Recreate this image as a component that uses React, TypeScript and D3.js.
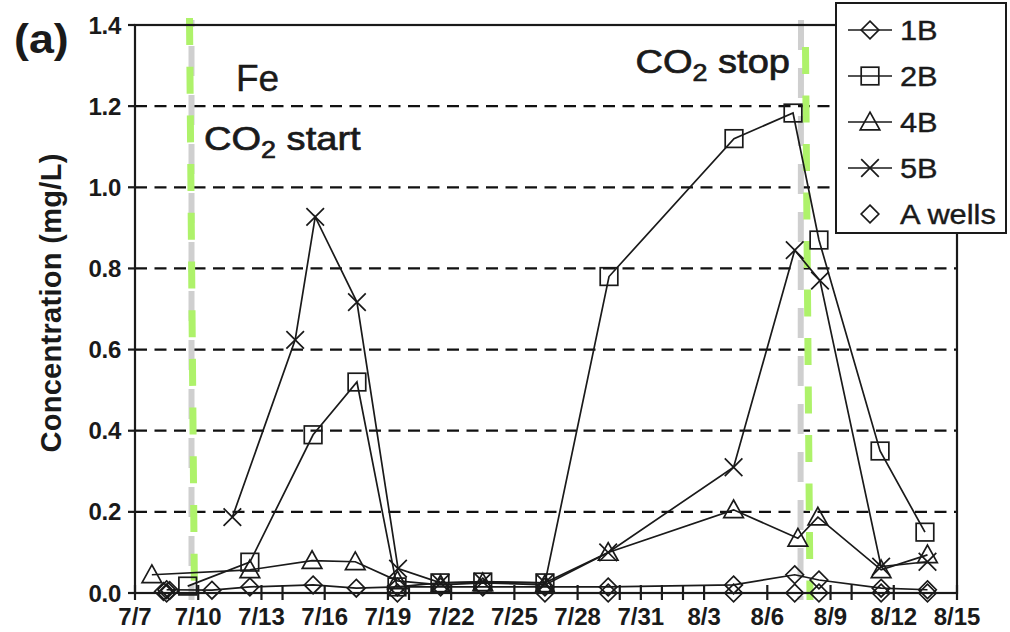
import React from "react";
import * as d3 from "d3";

// x values: days after 7/7 (fractional), y values: mg/L
const tickDays = [0, 3, 6, 9, 12, 15, 18, 21, 24, 27, 30, 33, 36, 39];
const tickLabels = ["7/7", "7/10", "7/13", "7/16", "7/19", "7/22", "7/25", "7/28", "7/31", "8/3", "8/6", "8/9", "8/12", "8/15"];
const minorTickDays = [7, 13, 23, 25, 26, 34];
const yTicks = [0, 0.2, 0.4, 0.6, 0.8, 1.0, 1.2, 1.4];

const days1B = [1.5, 3.65, 5.45, 8.45, 10.5, 12.45, 14.5, 16.5, 19.45, 22.45, 28.4, 31.3, 32.45, 35.4, 37.6];
const vals1B = [0.008, 0.007, 0.015, 0.02, 0.012, 0.015, 0.015, 0.015, 0.015, 0.015, 0.02, 0.045, 0.032, 0.012, 0.008];

const days2B = [2.5, 5.45, 8.45, 10.53, 12.43, 14.47, 16.5, 19.45, 22.49, 28.42, 31.22, 32.45, 35.35, 37.48];
const vals2B = [0.017, 0.076, 0.39, 0.52, 0.015, 0.025, 0.027, 0.025, 0.78, 1.12, 1.183, 0.87, 0.35, 0.15];

const days4B = [0.8, 5.45, 8.4, 10.45, 12.45, 14.5, 16.5, 19.45, 22.45, 28.4, 31.45, 32.4, 35.4, 37.6];
const vals4B = [0.045, 0.057, 0.08, 0.077, 0.03, 0.02, 0.025, 0.02, 0.1, 0.205, 0.135, 0.187, 0.057, 0.094];

const days5B = [4.62, 7.6, 8.55, 10.53, 12.48, 14.5, 16.5, 19.45, 22.45, 28.4, 31.3, 32.5, 35.4, 37.6];
const vals5B = [0.187, 0.624, 0.927, 0.717, 0.06, 0.025, 0.028, 0.025, 0.1, 0.31, 0.845, 0.77, 0.065, 0.077];

const daysA = [1.35, 1.5, 1.65, 12.45, 19.45, 22.45, 28.4, 31.3, 32.45, 35.4, 37.6];
const valsA = [0.004, 0.0, 0.006, 0.0, 0.0, 0.0, 0.0, 0.0, 0.0, 0.0, 0.0];

const legendNames = ["1B", "2B", "4B", "5B", "A wells"];

const FONT = "'Liberation Sans', Arial, Helvetica, sans-serif";
const INK = "#1a1a1a";

const L = 135, R = 957, T = 25, B = 593;
const x = d3.scaleLinear().domain([0, 39]).range([L, R]);
const y = d3.scaleLinear().domain([0, 1.4]).range([B, T]);

function Marker({ type, cx, cy }: { type: string; cx: number; cy: number }) {
  const s = 8.8;
  const common = { fill: "none", stroke: INK, strokeWidth: 1.7 };
  if (type === "diamond")
    return <path d={`M${cx},${cy - s} L${cx + s},${cy} L${cx},${cy + s} L${cx - s},${cy} Z`} {...common} />;
  if (type === "square")
    return <rect x={cx - s} y={cy - s} width={2 * s} height={2 * s} {...common} />;
  if (type === "triangle")
    return <path d={`M${cx},${cy - s - 1} L${cx + s + 1},${cy + s - 1} L${cx - s - 1},${cy + s - 1} Z`} {...common} />;
  if (type === "x")
    return <path d={`M${cx - s},${cy - s} L${cx + s},${cy + s} M${cx - s},${cy + s} L${cx + s},${cy - s}`} {...common} />;
  return null;
}

const series = [
  { name: "1B", days: days1B, vals: vals1B, marker: "diamond", line: true },
  { name: "2B", days: days2B, vals: vals2B, marker: "square", line: true },
  { name: "4B", days: days4B, vals: vals4B, marker: "triangle", line: true },
  { name: "5B", days: days5B, vals: vals5B, marker: "x", line: true },
  { name: "A wells", days: daysA, vals: valsA, marker: "diamond", line: false },
];

export default function App() {
  const lineGen = d3.line<[number, number]>().x((d) => x(d[0])).y((d) => y(d[1]));
  const thick = { stroke: INK, strokeWidth: 0.7 };
  return (
    <svg width={1010} height={632} style={{ position: "absolute", left: 0, top: 0, background: "#fff" }} fontFamily={FONT}>
      <rect width={1010} height={632} fill="#fff" />
      {/* gridlines */}
      {yTicks.filter((v) => v > 0 && v < 1.4).map((v) => (
        <line key={v} x1={L} x2={R} y1={y(v)} y2={y(v)} stroke="#111" strokeWidth={2.2} strokeDasharray="12,7.5" />
      ))}
      {/* CO2 lines: gray and green dashed */}
      <line x1={191.5} x2={191.5} y1={20} y2={600} stroke="#cfcfcf" strokeWidth={6} strokeDasharray="30,19" strokeDashoffset={-26} />
      <line x1={189.5} x2={194.5} y1={18} y2={600} stroke="#aef26a" strokeWidth={7} strokeDasharray="27,21.7" />
      <line x1={801} x2={800.5} y1={20} y2={600} stroke="#cfcfcf" strokeWidth={6} strokeDasharray="30,18" />
      <line x1={805.5} x2={810} y1={47} y2={600} stroke="#aef26a" strokeWidth={7} strokeDasharray="27,21.5" />
      {/* series lines */}
      {series.filter((s) => s.line).map((s) => (
        <path key={s.name} d={lineGen(s.days.map((d, i) => [d, s.vals[i]]) as [number, number][]) || ""} fill="none" stroke={INK} strokeWidth={1.7} />
      ))}
      {series.map((s) => s.days.map((d, i) => (
        <Marker key={s.name + i} type={s.marker} cx={x(d)} cy={y(s.vals[i])} />
      )))}
      {/* frame */}
      <rect x={L} y={T} width={R - L} height={B - T} fill="none" stroke={INK} strokeWidth={2.2} />
      {/* y ticks */}
      {yTicks.map((v) => (
        <g key={v}>
          <line x1={L - 7} x2={L} y1={y(v)} y2={y(v)} stroke={INK} strokeWidth={2.2} />
          <text x={121} y={y(v) + 8.5} textAnchor="end" fontSize={24} fontWeight="bold" fill={INK} letterSpacing={-0.3}>
            {v.toFixed(1)}
          </text>
        </g>
      ))}
      {/* x ticks */}
      {tickDays.map((d, i) => (
        <g key={d}>
          <line x1={x(d)} x2={x(d)} y1={B - 8} y2={B + 7} stroke={INK} strokeWidth={2.2} />
          <text x={x(d)} y={625} textAnchor="middle" fontSize={24} fontWeight="bold" fill={INK}>
            {tickLabels[i]}
          </text>
        </g>
      ))}
      {minorTickDays.map((d) => (
        <line key={"m" + d} x1={x(d)} x2={x(d)} y1={B - 8} y2={B + 7} stroke={INK} strokeWidth={2.2} />
      ))}
      {/* axis title */}
      <text transform="translate(61,303) rotate(-90)" textAnchor="middle" fontSize={29} fontWeight="bold" fill={INK} letterSpacing={0.3}>
        Concentration (mg/L)
      </text>
      <text transform="translate(14,53) scale(1.12,1)" fontSize={40} fontWeight="bold" fill={INK}>(a)</text>
      <text x={236} y={91} fontSize={37} fill={INK} {...thick} strokeWidth={0.4}>Fe</text>
      <text transform="translate(204,150) scale(1.12,1)" fontSize={34} fill={INK} {...thick}>
        CO<tspan fontSize={24} dy={8}>2</tspan><tspan dy={-8}> start</tspan>
      </text>
      <text transform="translate(790,73) scale(1.12,1)" fontSize={34} fill={INK} textAnchor="end" {...thick}>
        CO<tspan fontSize={24} dy={8}>2</tspan><tspan dy={-8}> stop</tspan>
      </text>
      {/* legend */}
      <rect x={836} y={3} width={170} height={230} fill="#fff" stroke={INK} strokeWidth={2} />
      {series.map((s, i) => {
        const cy = 30 + i * 46;
        return (
          <g key={"lg" + s.name}>
            {s.line && <line x1={848} x2={892} y1={cy} y2={cy} stroke={INK} strokeWidth={1.7} />}
            <Marker type={s.marker} cx={870} cy={cy} />
            <text transform={`translate(900,${cy + 10}) scale(1.1,1)`} fontSize={28} fill={INK} stroke={INK} strokeWidth={0.4}>{legendNames[i]}</text>
          </g>
        );
      })}
    </svg>
  );
}
